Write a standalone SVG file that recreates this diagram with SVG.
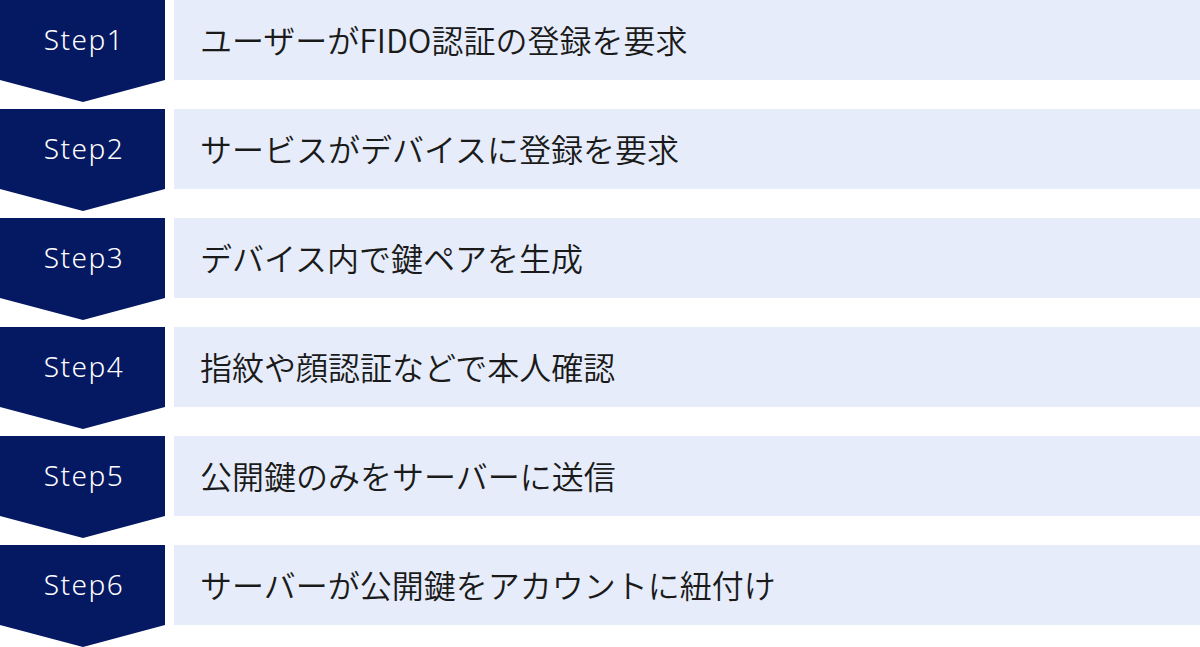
<svg xmlns="http://www.w3.org/2000/svg" width="1200" height="647" viewBox="0 0 1200 647">
<defs>
<style>
.tab{fill:#051862;}
.box{fill:#E6ECF9;}
.lbl{font-family:"Noto Sans","Noto Sans CJK JP",sans-serif;font-size:28px;font-weight:300;letter-spacing:1.5px;fill:#FFFFFF;text-anchor:middle;dominant-baseline:central;}
.txt{font-family:"Noto Sans CJK JP","Noto Sans",sans-serif;font-size:32px;font-weight:350;fill:#1A1A1A;dominant-baseline:central;}
</style>
<polygon id="chev" points="0,0 165,0 165,80 83,102 0,80"/>
</defs>
<rect width="1200" height="647" fill="#FFFFFF"/>
<g id="step1" transform="translate(0,0)">
<use href="#chev" class="tab"/>
<rect class="box" x="174" y="0" width="1026" height="80"/>
<text class="lbl" x="84" y="39">Step1</text>
<text class="txt" x="200" y="39">ユーザーがFIDO認証の登録を要求</text>
</g>
<g id="step2" transform="translate(0,109)">
<use href="#chev" class="tab"/>
<rect class="box" x="174" y="0" width="1026" height="80"/>
<text class="lbl" x="84" y="39">Step2</text>
<text class="txt" x="200" y="39">サービスがデバイスに登録を要求</text>
</g>
<g id="step3" transform="translate(0,218)">
<use href="#chev" class="tab"/>
<rect class="box" x="174" y="0" width="1026" height="80"/>
<text class="lbl" x="84" y="39">Step3</text>
<text class="txt" x="200" y="39">デバイス内で鍵ペアを生成</text>
</g>
<g id="step4" transform="translate(0,327)">
<use href="#chev" class="tab"/>
<rect class="box" x="174" y="0" width="1026" height="80"/>
<text class="lbl" x="84" y="39">Step4</text>
<text class="txt" x="200" y="39">指紋や顔認証などで本人確認</text>
</g>
<g id="step5" transform="translate(0,436)">
<use href="#chev" class="tab"/>
<rect class="box" x="174" y="0" width="1026" height="80"/>
<text class="lbl" x="84" y="39">Step5</text>
<text class="txt" x="200" y="39">公開鍵のみをサーバーに送信</text>
</g>
<g id="step6" transform="translate(0,545)">
<use href="#chev" class="tab"/>
<rect class="box" x="174" y="0" width="1026" height="80"/>
<text class="lbl" x="84" y="39">Step6</text>
<text class="txt" x="200" y="39">サーバーが公開鍵をアカウントに紐付け</text>
</g>
<g id="connectors"></g>
</svg>
